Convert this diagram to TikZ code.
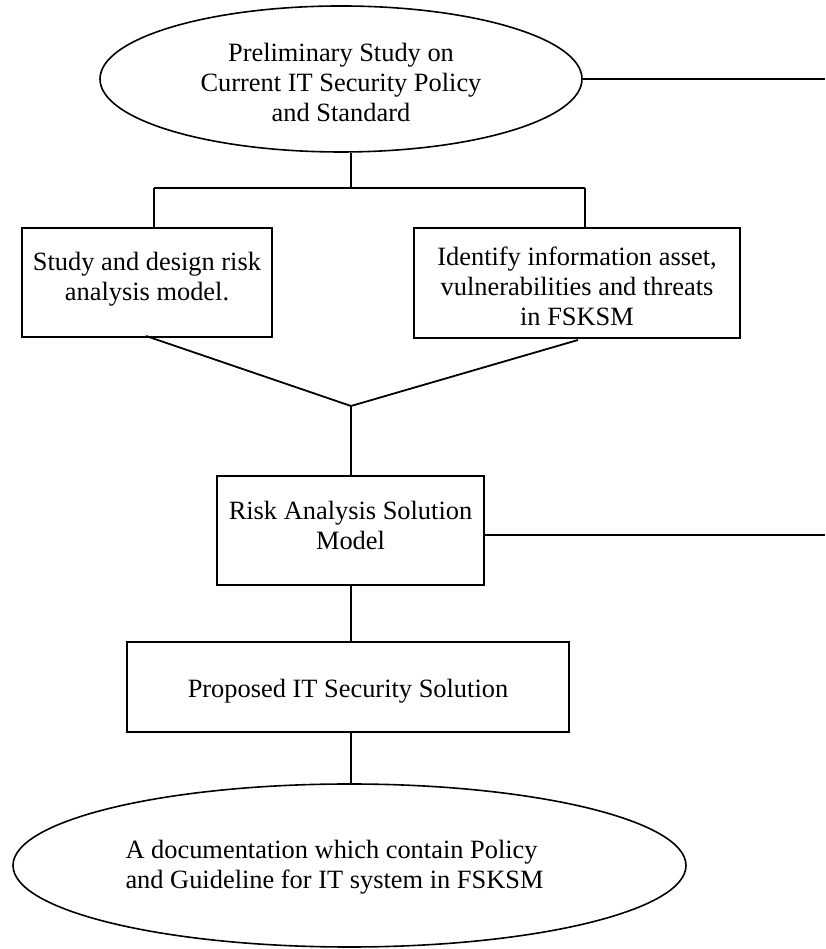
\documentclass[tikz,border=0pt]{standalone}
\usepackage{fontspec}
\setmainfont{Liberation Serif}
\usetikzlibrary{shapes.geometric,calc}

% text block moved vertically without changing its box size
\newcommand{\blocktext}[3]{\raisebox{#1}[\height][\depth]{\begin{tabular}{@{}#2@{}}#3\end{tabular}}}

\begin{document}
\begin{tikzpicture}[x=1pt,y=1pt,
  every node/.style={font=\fontsize{26.4}{30}\selectfont, inner sep=0pt},
  stepbox/.style={draw, line width=1.8pt, rectangle, align=center},
  oval/.style={draw, line width=1.6pt, ellipse},
  link/.style={line width=1.8pt}]
\useasboundingbox (0,0) rectangle (825,949);

% main chain of nodes
\node[oval, minimum width=482, minimum height=146] (study) at (341,870)
  {\blocktext{-7pt}{c}{Preliminary Study on\\Current IT Security Policy\\and Standard}};
\node[stepbox, minimum width=250, minimum height=109] (model) at (147,666.5)
  {\blocktext{3pt}{c}{Study and design risk\\analysis model.}};
\node[stepbox, minimum width=326, minimum height=110] (assets) at (577,666)
  {\blocktext{-7pt}{c}{Identify information asset,\\vulnerabilities and threats\\in FSKSM}};
\node[stepbox, minimum width=267, minimum height=109] (risk) at (350.5,418.5)
  {\blocktext{2pt}{c}{Risk Analysis Solution\\Model}};
\node[stepbox, minimum width=442, minimum height=90] (proposed) at (348,262)
  {\blocktext{-5pt}{c}{Proposed IT Security Solution}};
\node[oval, minimum width=673, minimum height=163] (doc) at (349.5,83.5)
  {\hspace*{-30pt}\blocktext{-2pt}{l}{A documentation which contain Policy\\and Guideline for IT system in FSKSM}};

% junction points
\coordinate (fork) at (351,761);
\coordinate (forkL) at (154,761);
\coordinate (forkR) at (585,761);
\coordinate (join) at (351,543);
\coordinate (modelOut) at (146,613);
\coordinate (assetsOut) at (578,609);
\coordinate (topOut) at (825,870);
\coordinate (riskOut) at (825,414);

% split into the two study tasks
\draw[link] (fork |- study.south) -- (fork);
\draw[link] (forkL) -- (forkR);
\draw[link] (forkL) -- (forkL |- model.north);
\draw[link] (forkR) -- (forkR |- assets.north);

% merge into the risk model
\draw[link] (modelOut) -- (join) -- (assetsOut);
\draw[link] (join) -- (join |- risk.north);

% down to the proposal and the documentation
\draw[link] (risk.south -| join) -- (proposed.north -| join);
\draw[link] (proposed.south -| join) -- (doc.north -| join);

% outgoing lines to the right edge
\draw[line width=1.4pt] (study.east) -- (topOut);
\draw[link] (risk.east |- riskOut) -- (riskOut);
\end{tikzpicture}
\end{document}
